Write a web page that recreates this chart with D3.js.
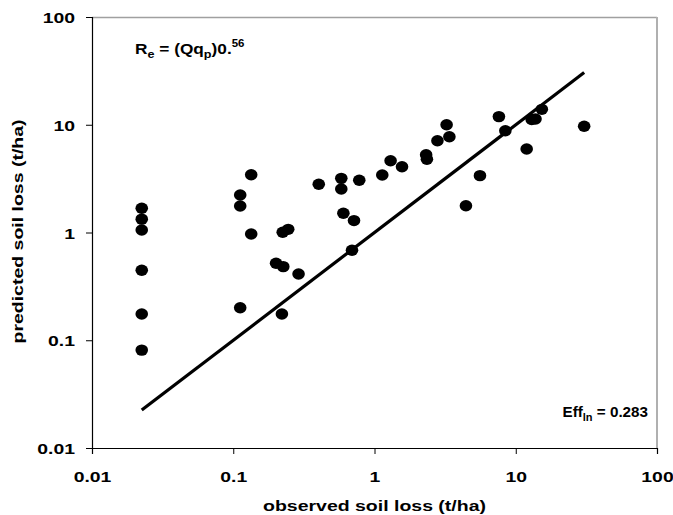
<!DOCTYPE html>
<html>
<head>
<meta charset="utf-8">
<script src="https://cdn.jsdelivr.net/npm/d3@7"></script>
<style>
  body { margin: 0; background: #fff; }
  svg text { font-family: "Liberation Sans", Arial, sans-serif; font-weight: bold; fill: #000; }
</style>
</head>
<body>
<div id="wrapper"></div>
<script>
// observed (x) and predicted (y) soil loss, t/ha
const observed = [
  0.0225, 0.0225, 0.0225, 0.0225, 0.0225, 0.0225,
  0.112, 0.112, 0.112, 0.134, 0.134,
  0.224, 0.245, 0.201, 0.226, 0.29, 0.221,
  0.403, 0.582, 0.582, 0.78, 0.602, 0.716, 0.693,
  1.135, 1.30, 1.566, 2.32, 2.35, 2.79, 3.24, 3.39,
  4.44, 5.58, 7.6, 8.44, 11.95, 12.97, 13.8, 15.3, 30.5
];
const predicted = [
  1.68, 1.33, 1.055, 0.446, 0.175, 0.081,
  2.23, 1.76, 0.2, 3.44, 0.97,
  1.005, 1.07, 0.518, 0.482, 0.412, 0.175,
  2.8, 3.18, 2.53, 3.05, 1.51, 1.29, 0.684,
  3.42, 4.64, 4.08, 5.27, 4.78, 7.11, 10.0, 7.74,
  1.77, 3.37, 11.9, 8.81, 5.96, 11.2, 11.3, 13.9, 9.68
];
const tickValues = [0.01, 0.1, 1, 10, 100];
const lineEnds = [0.0225, 30.5]; // 1:1 line

function drawScatter() {
  const dimensions = {
    width: 673,
    height: 515,
    margin: { top: 17, right: 16, bottom: 67, left: 92 }
  };
  dimensions.boundedWidth = dimensions.width - dimensions.margin.left - dimensions.margin.right;
  dimensions.boundedHeight = dimensions.height - dimensions.margin.top - dimensions.margin.bottom;
  // the source text is drawn a bit wider than it is tall
  const stretch = 1.25;

  const data = observed.map((d, i) => ({ x: d, y: predicted[i] }));

  const wrapper = d3.select('#wrapper')
    .append('svg')
    .attr('width', dimensions.width)
    .attr('height', dimensions.height);

  const bounds = wrapper.append('g')
    .attr('transform', `translate(${dimensions.margin.left},${dimensions.margin.top})`);

  const xScale = d3.scaleLog()
    .domain([0.01, 100])
    .range([0, dimensions.boundedWidth]);
  const yScale = d3.scaleLog()
    .domain([0.01, 100])
    .range([dimensions.boundedHeight, 0]);

  // top and right frame (grey)
  bounds.append('line')
    .attr('x1', 0).attr('x2', dimensions.boundedWidth)
    .attr('y1', 0.5).attr('y2', 0.5)
    .attr('stroke', '#a0a0a0').attr('stroke-width', 1.5);
  bounds.append('line')
    .attr('x1', dimensions.boundedWidth).attr('x2', dimensions.boundedWidth)
    .attr('y1', 0).attr('y2', dimensions.boundedHeight)
    .attr('stroke', '#b0b0b0').attr('stroke-width', 2);

  // axes
  const xAxis = bounds.append('g')
    .attr('transform', `translate(0,${dimensions.boundedHeight})`)
    .call(d3.axisBottom(xScale).tickValues(tickValues).tickFormat(d3.format('~g')).tickSize(6).tickPadding(17));
  const yAxis = bounds.append('g')
    .call(d3.axisLeft(yScale).tickValues(tickValues).tickFormat(d3.format('~g')).tickSize(6).tickPadding(17));

  [xAxis, yAxis].forEach(ax => {
    ax.select('.domain').attr('stroke', '#000').attr('stroke-width', 1.2);
    ax.selectAll('.tick line').attr('stroke', '#000');
    ax.selectAll('.tick text')
      .attr('font-family', '"Liberation Sans", Arial, sans-serif')
      .attr('font-weight', 'bold')
      .attr('font-size', 15.5)
      .attr('fill', '#000');
  });
  xAxis.selectAll('.tick text')
    .attr('transform', `scale(${stretch},1)`);
  yAxis.selectAll('.tick text')
    .attr('dy', '0.36em')
    .attr('x', -17 / stretch)
    .attr('transform', `scale(${stretch},1)`);

  // 1:1 line
  bounds.append('line')
    .attr('x1', xScale(lineEnds[0])).attr('y1', yScale(lineEnds[0]))
    .attr('x2', xScale(lineEnds[1])).attr('y2', yScale(lineEnds[1]))
    .attr('stroke', '#000').attr('stroke-width', 3.2);

  // points
  bounds.selectAll('ellipse')
    .data(data)
    .join('ellipse')
    .attr('cx', d => xScale(d.x))
    .attr('cy', d => yScale(d.y))
    .attr('rx', 6.3)
    .attr('ry', 5.7)
    .attr('fill', '#000');

  // annotations
  const eq = bounds.append('text')
    .attr('transform', `translate(43,37) scale(1.15,1)`)
    .attr('font-size', 15);
  eq.append('tspan').text('R');
  eq.append('tspan').attr('font-size', 11).attr('dy', 4).text('e');
  eq.append('tspan').attr('dy', -4).text(' = (Qq');
  eq.append('tspan').attr('font-size', 11).attr('dy', 4).text('p');
  eq.append('tspan').attr('dy', -4).text(')0.');
  eq.append('tspan').attr('font-size', 10).attr('dy', -7).text('56');

  const eff = bounds.append('text')
    .attr('transform', `translate(${dimensions.boundedWidth - 9},400) scale(1.05,1)`)
    .attr('text-anchor', 'end')
    .attr('font-size', 14.5);
  eff.append('tspan').text('Eff');
  eff.append('tspan').attr('font-size', 10.5).attr('dy', 4).text('ln');
  eff.append('tspan').attr('dy', -4).text(' = 0.283');

  // axis titles
  wrapper.append('text')
    .attr('transform', `translate(${dimensions.margin.left + dimensions.boundedWidth / 2},511) scale(1.3,1)`)
    .attr('text-anchor', 'middle')
    .attr('font-size', 15)
    .text('observed soil loss (t/ha)');
  wrapper.append('text')
    .attr('transform', `translate(23,${dimensions.margin.top + dimensions.boundedHeight / 2 - 1}) rotate(-90) scale(1.3,1)`)
    .attr('text-anchor', 'middle')
    .attr('font-size', 15)
    .text('predicted soil loss (t/ha)');
}

drawScatter();
</script>
</body>
</html>
